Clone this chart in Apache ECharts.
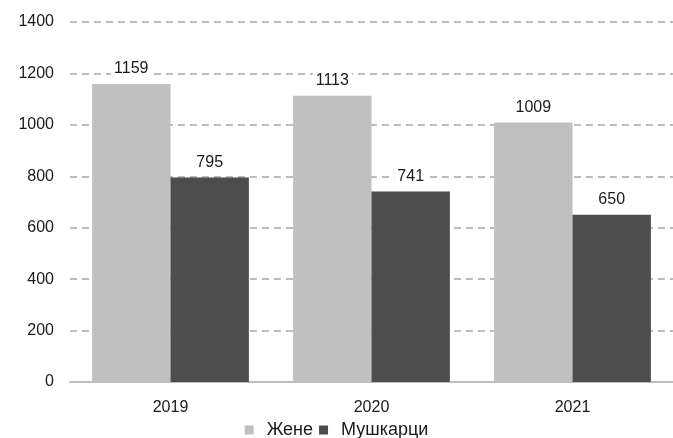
<!DOCTYPE html>
<html>
<head>
<meta charset="utf-8">
<script src="https://cdn.jsdelivr.net/npm/echarts@6/dist/echarts.min.js"></script>
<style>
  html, body { margin: 0; padding: 0; background: #fff; }
  #chart { width: 673px; height: 438px; }
</style>
</head>
<body>
<div id="chart"></div>
<script>
const years = ['2019', '2020', '2021'];
const women = [1159, 1113, 1009];
const men = [795, 741, 650];
const seriesNames = ['Жене', 'Мушкарци'];

const font = '"Liberation Sans", Arial, sans-serif';
const textColor = '#1a1a1a';
const chart = echarts.init(document.getElementById('chart'), null, { renderer: 'canvas' });

const valueLabel = {
  show: true,
  position: 'top',
  distance: 7,
  color: textColor,
  fontFamily: font,
  fontSize: 16,
  backgroundColor: '#fff',
  padding: [0, 3]
};

chart.setOption({
  animation: false,
  grid: { left: 70, right: 0, top: 22, bottom: 56 },
  legend: {
    bottom: -6,
    left: 'center',
    itemWidth: 9,
    itemHeight: 9,
    itemGap: 6,
    icon: 'rect',
    textStyle: { fontFamily: font, fontSize: 18, color: textColor, padding: [0, 0, 0, 8] },
    data: seriesNames
  },
  xAxis: {
    type: 'category',
    data: years,
    axisLine: { lineStyle: { color: '#bdbdbd', width: 2 } },
    axisTick: { show: false },
    axisLabel: { fontFamily: font, fontSize: 16, color: textColor, margin: 18 }
  },
  yAxis: {
    type: 'value',
    min: 0,
    max: 1400,
    interval: 200,
    axisLine: { show: false },
    axisTick: { show: false },
    axisLabel: {
      fontFamily: font, fontSize: 16, color: textColor, margin: 16,
      formatter: (v) => String(v)
    },
    splitLine: { lineStyle: { color: '#a6a6a6', type: [7, 5], width: 1.5 } }
  },
  series: [
    {
      name: seriesNames[0],
      type: 'bar',
      data: women,
      barGap: '0%',
      barCategoryGap: '22%',
      itemStyle: { color: '#c0c0c0' },
      label: valueLabel
    },
    {
      name: seriesNames[1],
      type: 'bar',
      data: men,
      itemStyle: { color: '#4d4d4d' },
      label: valueLabel
    }
  ]
});
</script>
</body>
</html>
